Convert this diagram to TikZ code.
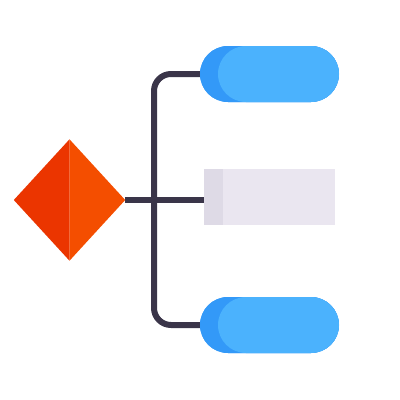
\documentclass[tikz,border=0pt]{standalone}
\usetikzlibrary{shapes.geometric}
\definecolor{redL}{HTML}{EB3500}
\definecolor{redR}{HTML}{F44E00}
\definecolor{lineC}{HTML}{3A3549}
\definecolor{blueD}{HTML}{3399F8}
\definecolor{blueL}{HTML}{4BB2FD}
\definecolor{greyD}{HTML}{DEDAE6}
\definecolor{greyL}{HTML}{EAE6F0}
\tikzset{
  conn/.style={draw=lineC, line width=6pt, rounded corners=17pt},
  pill/.style={fill=blueD, rounded corners=28pt, minimum width=139pt, minimum height=56pt, inner sep=0pt},
  pillface/.style={fill=blueL, rounded corners=28pt},
  box/.style={fill=greyL, minimum width=131pt, minimum height=56pt, inner sep=0pt},
  boxstrip/.style={fill=greyD},
  dia/.style={diamond, minimum width=111pt, minimum height=121pt, inner sep=0pt}
}
\begin{document}
\begin{tikzpicture}[x=1pt,y=-1pt]
\useasboundingbox (0,0) rectangle (400,400);
% nodes
\node[dia] (d) at (69.5,200) {};
\node[pill] (top) at (269.5,74) {};
\node[pill] (bot) at (269.5,325) {};
\node[box] (mid) at (269.5,197) {};
\coordinate (jx) at (154,200);
% connectors
\draw[conn] (top.west) -| (jx) |- (bot.west);
\draw[draw=lineC, line width=6pt] (d.east) -- (jx |- d.east) -- (mid.west |- d.east);
% diamond halves
\fill[redL] (d.north) -- (d.west) -- (d.south) -- cycle;
\fill[redR] (d.north) -- (d.east) -- (d.south) -- cycle;
% pills
\node[pill] at (top) {};
\fill[pillface] (218,46) rectangle (339,102);
\node[pill] at (bot) {};
\fill[pillface] (218,297) rectangle (339,353);
% middle box
\fill[boxstrip] (mid.north west) rectangle (223,225);
\end{tikzpicture}
\end{document}
